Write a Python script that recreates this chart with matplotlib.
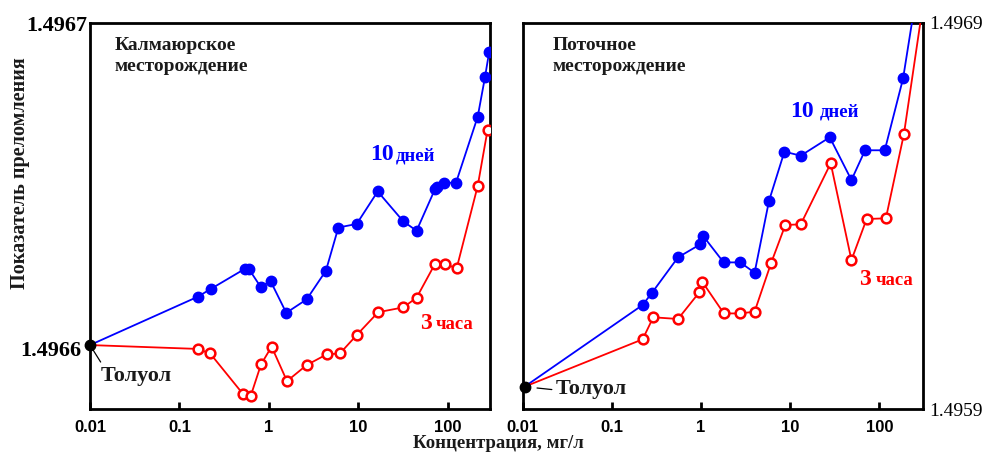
import numpy as np
import matplotlib
matplotlib.use('Agg')
import matplotlib.pyplot as plt
import matplotlib.transforms as mtransforms

plt.rcParams['font.family'] = ['Liberation Serif', 'DejaVu Serif']

# Калмаюрское месторождение
kal_x_10d = [0.01, 0.16, 0.223, 0.54, 0.60, 0.81, 1.04, 1.56, 2.64, 4.33, 5.96, 9.55,
             16.4, 31.7, 44.6, 71.6, 76, 90.2, 123, 215, 259, 289]
kal_y_10d = [1.4966, 1.496615, 1.4966174, 1.4966237, 1.4966235, 1.496618, 1.4966199,
             1.49661, 1.4966142, 1.4966231, 1.4966365, 1.4966376, 1.4966477, 1.4966384,
             1.4966355, 1.4966484, 1.496649, 1.4966504, 1.4966504, 1.4966709, 1.4966831,
             1.4966911]
kal_x_3h = [0.01, 0.159, 0.22, 0.516, 0.625, 0.815, 1.07, 1.59, 2.64, 4.41, 6.21, 9.55,
            16.6, 31.7, 44.6, 71.6, 92.5, 125, 215, 277]
kal_y_3h = [1.4966, 1.4965988, 1.4965974, 1.4965847, 1.4965842, 1.496594, 1.4965995,
            1.4965888, 1.4965938, 1.4965971, 1.4965974, 1.4966031, 1.4966102, 1.4966117,
            1.4966147, 1.4966252, 1.4966252, 1.4966238, 1.4966494, 1.4966668]

# Поточное месторождение
pot_x_10d = [0.0105, 0.221, 0.282, 0.551, 0.98, 1.05, 1.79, 2.75, 3.98, 5.77, 8.59, 13.1,
             27.7, 48.5, 68.9, 114.6, 184, 300]
pot_y_10d = [1.4959585, 1.4961698, 1.4962016, 1.496293, 1.4963268, 1.496349, 1.49628,
             1.49628, 1.4962533, 1.4964388, 1.4965664, 1.496556, 1.4966036, 1.496493,
             1.49657, 1.49657, 1.496756, 1.497065]
pot_x_3h = [0.0105, 0.221, 0.291, 0.551, 0.955, 1.03, 1.8, 2.75, 3.98, 6.08, 8.8, 13.1,
            28.4, 48.5, 71.8, 118, 188, 300]
pot_y_3h = [1.4959585, 1.496081, 1.496138, 1.4961336, 1.4962026, 1.49623, 1.496148,
            1.496148, 1.4961525, 1.4962776, 1.4963767, 1.4963785, 1.4965363, 1.496286,
            1.4963922, 1.496394, 1.496612, 1.49693]

xticks = [0.01, 0.1, 1, 10, 100]
xtick_labels = ['0.01', '0.1', '1', '10', '100']

W, H = 993, 462
fig = plt.figure(figsize=(W / 100, H / 100), dpi=100)

def box(x0, y0, x1, y1):
    return [x0 / W, 1 - y1 / H, (x1 - x0) / W, (y1 - y0) / H]

ax1 = fig.add_axes(box(90, 22.7, 490, 408.5))
ax2 = fig.add_axes(box(522.7, 22.7, 923.3, 409.3))

blue = '#0000ff'
red = '#ff0000'
txt = '#1a1a1a'

for ax, xb, yb, xr, yr, last in [(ax1, kal_x_10d, kal_y_10d, kal_x_3h, kal_y_3h, None),
                                 (ax2, pot_x_10d, pot_y_10d, pot_x_3h, pot_y_3h, -1)]:
    ax.plot(xb, yb, color=blue, lw=1.3, marker='o', ms=7.5, mfc=blue, mec=blue,
            markevery=slice(1, last), zorder=3)
    ax.plot(xr, yr, color=red, lw=1.3, marker='o', ms=7, mfc='white', mec=red, mew=1.8,
            markevery=slice(1, last), zorder=3)
    # toluene point
    ax.plot([xb[0]], [yb[0]], 'o', color='black', ms=7.5, clip_on=False, zorder=5)
    ax.set_xscale('log')
    ax.set_xticks(xticks)
    ax.set_xticklabels(xtick_labels, family='Liberation Sans', fontweight='bold', fontsize=12)
    ax.minorticks_off()
    ax.tick_params(axis='x', direction='in', length=5, width=2, pad=8)
    ax.tick_params(axis='y', length=0)
    for s in ax.spines.values():
        s.set_linewidth(2)

ax1.set_xlim(0.01, 295)
ax1.set_ylim(1.4965803, 1.4967001)
ax1.set_yticks([1.4966, 1.4967])
ax1.set_yticklabels(['1.4966', '1.4967'], fontsize=16, fontweight='bold')
ax1.tick_params(axis='y', pad=2)
# lower label sits a bit further left and lower, clear of the toluene point
lbl = ax1.get_yticklabels()[0]
lbl.set_transform(lbl.get_transform() +
                  mtransforms.ScaledTranslation(-6 / 100, -3 / 100, fig.dpi_scale_trans))

ax2.set_xlim(0.01, 310)
ax2.set_ylim(1.4959, 1.4969)
ax2.yaxis.tick_right()
ax2.set_yticks([1.4959, 1.4969])
ax2.set_yticklabels(['1.4959', '1.4969'], fontsize=14)
ax2.tick_params(axis='y', pad=4)

def ftext(px, py, s, **kw):
    fig.text(px / W, 1 - py / H, s, **kw)

ftext(115, 37, 'Калмаюрское\nместорождение', fontsize=14, fontweight='bold', color=txt,
      va='top', ha='left', linespacing=1.3)
ftext(553, 37, 'Поточное\nместорождение', fontsize=14, fontweight='bold', color=txt,
      va='top', ha='left', linespacing=1.3)

ftext(370, 160, '10', fontsize=17, fontweight='bold', color=blue, va='baseline')
ftext(396, 160, 'дней', fontsize=13.5, fontweight='bold', color=blue, va='baseline')
ftext(420, 329, '3', fontsize=17, fontweight='bold', color=red, va='baseline')
ftext(436, 329, 'часа', fontsize=13.5, fontweight='bold', color=red, va='baseline')

ftext(790, 117, '10', fontsize=17, fontweight='bold', color=blue, va='baseline')
ftext(820, 117, 'дней', fontsize=13.5, fontweight='bold', color=blue, va='baseline')
ftext(859, 285, '3', fontsize=17, fontweight='bold', color=red, va='baseline')
ftext(876, 285, 'часа', fontsize=13.5, fontweight='bold', color=red, va='baseline')

ax1.annotate('Толуол', xy=(kal_x_10d[0], kal_y_10d[0]), xytext=(101, H - 376),
             textcoords='figure pixels', ha='left', va='center', fontsize=16,
             fontweight='bold', color=txt,
             arrowprops=dict(arrowstyle='-', color='black', lw=0.9, relpos=(0.03, 1.0),
                             shrinkA=1, shrinkB=3), annotation_clip=False)
ax2.annotate('Толуол', xy=(pot_x_10d[0], pot_y_10d[0]), xytext=(556, H - 389),
             textcoords='figure pixels', ha='left', va='center', fontsize=16,
             fontweight='bold', color=txt,
             arrowprops=dict(arrowstyle='-', color='black', lw=0.9, relpos=(0.0, 0.45),
                             shrinkA=1, shrinkB=9), annotation_clip=False)

ftext(498, 443, 'Концентрация, мг/л', fontsize=13.5, fontweight='bold', color=txt,
      ha='center', va='center')
ftext(20, 173, 'Показатель преломления', fontsize=14.5, fontweight='bold', color=txt,
      ha='center', va='center', rotation=90)

fig.savefig('out.png', dpi=100)
